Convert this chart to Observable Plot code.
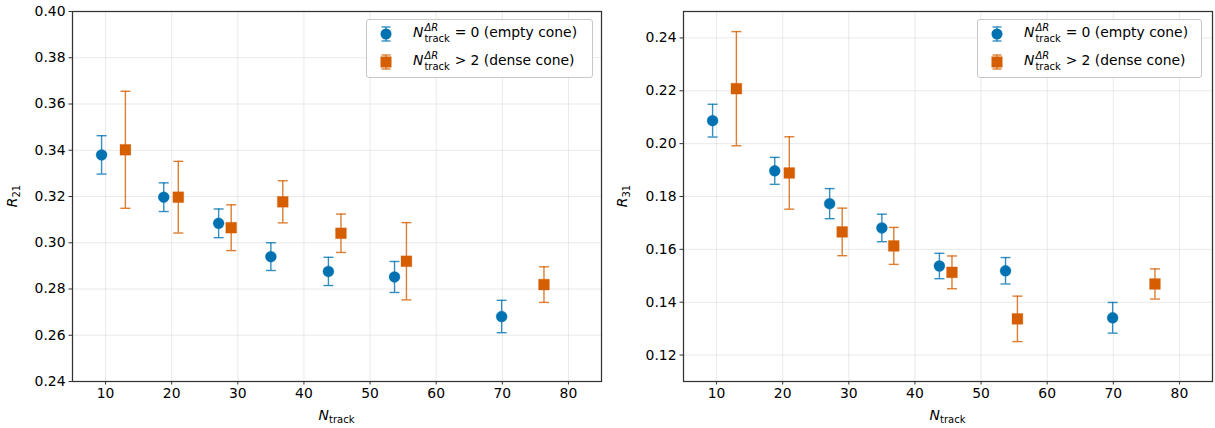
<!DOCTYPE html>
<html><head><meta charset="utf-8">
<script src="https://cdn.jsdelivr.net/npm/d3@7"></script>
<script src="https://cdn.jsdelivr.net/npm/@observablehq/plot@0.6"></script>
<style>
body{margin:0;background:#fff;font-family:"DejaVu Sans",sans-serif;}
#wrap{position:relative;width:1215px;height:428px;overflow:hidden;background:#fff}
.panel{position:absolute;top:0}
.legend{position:absolute;top:19px;height:59px;box-sizing:border-box;border:1px solid #c8c8c8;border-radius:3px;background:rgba(255,255,255,0.85);font-size:13.9px;color:#000}
.row{position:absolute;left:0;height:24px;display:flex;align-items:center;white-space:nowrap}
.row svg{display:block}
.txt{position:absolute;left:46px;white-space:nowrap}
.ss{display:inline-flex;flex-direction:column;vertical-align:0.55em;font-size:72%;line-height:1.05;margin-left:1px;margin-right:5px}
.ss i{font-style:italic}
.op{margin-right:4px}
</style>
</head><body>
<div id="wrap"></div>
<script>
// ---- data ----
const xTicks = [10, 20, 30, 40, 50, 60, 70, 80];
const xEmpty = [9.4, 18.8, 27.1, 35.0, 43.7, 53.7, 69.9];
const xDense = [13.0, 21.0, 29.0, 36.8, 45.6, 55.5, 76.3];

const r21Empty    = [0.3380, 0.3197, 0.3084, 0.2940, 0.2876, 0.2852, 0.2681];
const r21EmptyErr = [0.0083, 0.0062, 0.0062, 0.0060, 0.0061, 0.0067, 0.0070];
const r21Dense    = [0.3402, 0.3197, 0.3065, 0.3177, 0.3041, 0.2920, 0.2819];
const r21DenseErr = [0.0253, 0.0155, 0.0099, 0.0091, 0.0083, 0.0167, 0.0077];

const r31Empty    = [0.2087, 0.1897, 0.1773, 0.1681, 0.1537, 0.1519, 0.1341];
const r31EmptyErr = [0.0062, 0.0051, 0.0057, 0.0052, 0.0048, 0.0050, 0.0058];
const r31Dense    = [0.2208, 0.1889, 0.1666, 0.1613, 0.1513, 0.1337, 0.1469];
const r31DenseErr = [0.0216, 0.0137, 0.0090, 0.0070, 0.0062, 0.0086, 0.0057];

const r21Ticks = [0.24, 0.26, 0.28, 0.30, 0.32, 0.34, 0.36, 0.38, 0.40];
const r31Ticks = [0.12, 0.14, 0.16, 0.18, 0.20, 0.22, 0.24];

const legendOps = ["=", ">"];
const legendRest = ["0 (empty cone)", "2 (dense cone)"];

const BLUE = "#0072B2", ORANGE = "#D55E00";
const FS = 13.9;

const capSymbol = {draw(ctx, size){ const r = Math.sqrt(size/Math.PI); ctx.moveTo(-r,0); ctx.lineTo(r,0); }};

function rows(xs, ys, es){ return xs.map((x,i)=>({x, y: ys[i], lo: ys[i]-es[i], hi: ys[i]+es[i]})); }

function panel(opts){
  const E = rows(xEmpty, opts.yE, opts.eE);
  const D = rows(xDense, opts.yD, opts.eD);
  const errMarks = (data, color) => [
    Plot.ruleX(data, {x:"x", y1:"lo", y2:"hi", stroke:color, strokeWidth:1.4, strokeOpacity:0.8}),
    Plot.dot(data, {x:"x", y:"lo", symbol:capSymbol, r:5, fill:"none", stroke:color, strokeWidth:1.4, strokeOpacity:0.8}),
    Plot.dot(data, {x:"x", y:"hi", symbol:capSymbol, r:5, fill:"none", stroke:color, strokeWidth:1.4, strokeOpacity:0.8})
  ];
  const p = Plot.plot({
    width: opts.width, height: 428,
    marginLeft: opts.ml, marginRight: opts.mr, marginTop: 11, marginBottom: 47,
    style: {fontFamily:"DejaVu Sans, sans-serif", fontSize: FS+"px", color:"#000", background:"transparent", overflow:"visible"},
    x: {domain:[5,85]},
    y: {domain: opts.yDomain},
    marks: [
      Plot.gridX(xTicks, {stroke:"#b0b0b0", strokeOpacity:0.35, strokeWidth:0.8}),
      Plot.gridY(opts.yTicks, {stroke:"#b0b0b0", strokeOpacity:0.35, strokeWidth:0.8}),
      ...errMarks(E, BLUE),
      ...errMarks(D, ORANGE),
      Plot.dot(E, {x:"x", y:"y", r:5.5, fill:BLUE, stroke:BLUE, strokeWidth:0.5, strokeOpacity:0.6}),
      Plot.dot(D, {x:"x", y:"y", symbol:"square", r:6.1, fill:ORANGE, stroke:ORANGE, strokeWidth:0.5, strokeOpacity:0.6}),
      Plot.frame({stroke:"#333", strokeWidth:1.25}),
      Plot.axisX({ticks:xTicks, tickSize:3.5, tickPadding:3.5, fontSize:FS, label:null, tickFormat:d=>String(d), stroke:"#333"}),
      Plot.axisY({ticks:opts.yTicks, tickSize:3.5, tickPadding:3.5, fontSize:FS, label:null, tickFormat:d3.format(".2f"), stroke:"#333"})
    ]
  });
  const svg = d3.select(p);
  const cx = opts.ml + (opts.width - opts.ml - opts.mr)/2;
  const xl = svg.append("text").attr("x", cx).attr("y", 420).attr("text-anchor","middle")
    .attr("font-size", FS).attr("fill","#000");
  xl.append("tspan").attr("font-style","italic").text("N");
  xl.append("tspan").attr("font-size", FS*0.72).attr("dy", 3).text("track");
  const yl = svg.append("text").attr("transform", `translate(${opts.ylx},196) rotate(-90)`)
    .attr("text-anchor","middle").attr("font-size", FS).attr("fill","#000");
  yl.append("tspan").attr("font-style","italic").text("R");
  yl.append("tspan").attr("font-size", FS*0.72).attr("dy", 3).text(opts.ysub);
  return p;
}

function legend(left, width){
  const L = document.createElement("div");
  L.className = "legend";
  L.style.left = left+"px"; L.style.width = width+"px";
  const items = [[BLUE, "circle"], [ORANGE, "square"]];
  items.forEach(([c, shape], i) => {
    const row = document.createElement("div");
    row.className = "row";
    row.style.top = (i===0 ? 2 : 30)+"px";
    row.style.width = width+"px";
    const s = d3.create("svg").attr("width", 40).attr("height", 24);
    const g = s.append("g").attr("transform","translate(19,12)");
    g.append("line").attr("x1",0).attr("x2",0).attr("y1",-7).attr("y2",7).attr("stroke",c).attr("stroke-width",1.4).attr("stroke-opacity",0.8);
    g.append("line").attr("x1",-4.5).attr("x2",4.5).attr("y1",-7).attr("y2",-7).attr("stroke",c).attr("stroke-width",1.4).attr("stroke-opacity",0.8);
    g.append("line").attr("x1",-4.5).attr("x2",4.5).attr("y1",7).attr("y2",7).attr("stroke",c).attr("stroke-width",1.4).attr("stroke-opacity",0.8);
    if (shape==="circle") g.append("circle").attr("r",5.5).attr("fill",c);
    else g.append("rect").attr("x",-5.5).attr("y",-5.5).attr("width",11).attr("height",11).attr("fill",c);
    row.appendChild(s.node());
    const t = document.createElement("span");
    t.className = "txt";
    t.innerHTML = `<i>N</i><span class="ss"><i>ΔR</i><span>track</span></span><span class="op">${legendOps[i]}</span>${legendRest[i]}`;
    row.appendChild(t);
    L.appendChild(row);
  });
  return L;
}

const wrap = document.getElementById("wrap");
const left = panel({width:607, ml:72, mr:6, yDomain:[0.24,0.40], yTicks:r21Ticks, yE:r21Empty, eE:r21EmptyErr, yD:r21Dense, eD:r21DenseErr, ysub:"21", ylx:17});
left.classList.add("panel"); left.style.left = "0px";
const right = panel({width:608, ml:76, mr:3, yDomain:[0.11,0.25], yTicks:r31Ticks, yE:r31Empty, eE:r31EmptyErr, yD:r31Dense, eD:r31DenseErr, ysub:"31", ylx:20});
right.classList.add("panel"); right.style.left = "607px";
wrap.appendChild(left); wrap.appendChild(right);
wrap.appendChild(legend(366, 227));
wrap.appendChild(legend(977, 225));
</script>
</body></html>
